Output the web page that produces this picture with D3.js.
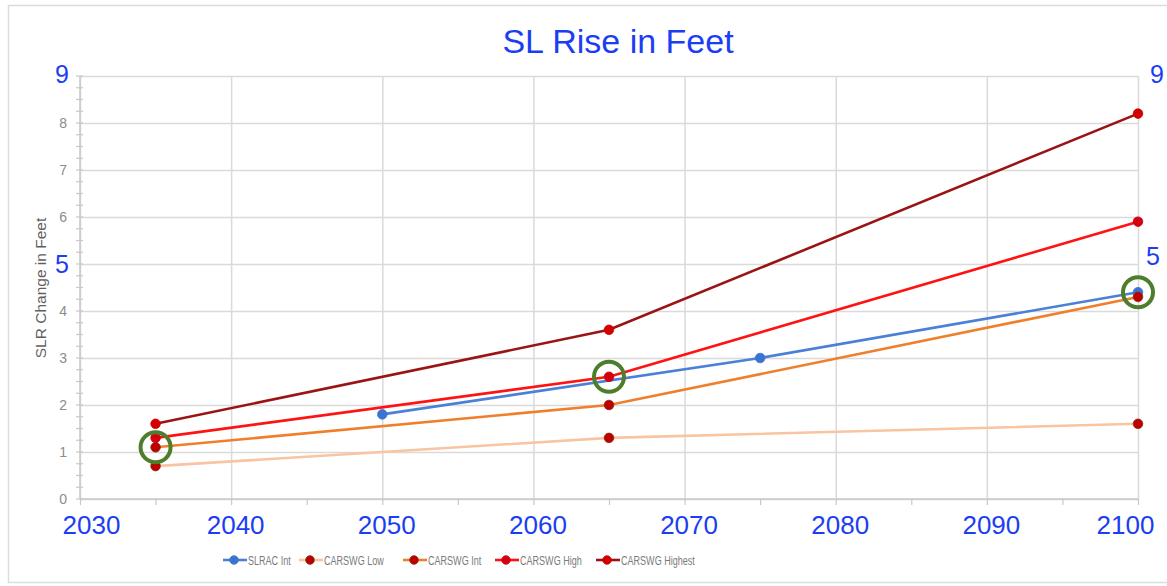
<!DOCTYPE html>
<html>
<head>
<meta charset="utf-8">
<script src="https://cdn.jsdelivr.net/npm/d3@7"></script>
<style>
  body { margin: 0; background: #fff; }
  svg { display: block; }
</style>
</head>
<body>
<script>
// data
var slracYears = [2050, 2075, 2100];
var slracInt = [1.8, 3.0, 4.4];
var carswgYears = [2035, 2065, 2100];
var carswgLow = [0.7, 1.3, 1.6];
var carswgInt = [1.1, 2.0, 4.3];
var carswgHigh = [1.3, 2.6, 5.9];
var carswgHighest = [1.6, 3.6, 8.2];
var seriesNames = ["SLRAC Int", "CARSWG Low", "CARSWG Int", "CARSWG High", "CARSWG Highest"];
var xTicks = [2030, 2040, 2050, 2060, 2070, 2080, 2090, 2100];
var yTicks = [0, 1, 2, 3, 4, 6, 7, 8];   // 5 and 9 are covered by the blue notes
var circledYears = [2035, 2065, 2100];
var circledValues = [1.1, 2.6, 4.4];
var noteLeft = [9, 5];
var noteRight = [9, 5];

var W = 1167, H = 586;
var blue = "#1c3ef2";

var svg = d3.select("body").append("svg")
  .attr("width", W)
  .attr("height", H);

// outer frame
svg.append("rect")
  .attr("x", 8.5).attr("y", 5.5)
  .attr("width", W + 20).attr("height", 577)
  .attr("fill", "none")
  .attr("stroke", "#dcdcdc")
  .attr("stroke-width", 1.5);

var x = d3.scaleLinear().domain([2030, 2100]).range([80, 1138]);
var y = d3.scaleLinear().domain([0, 9]).range([499, 76]);

// grid
var gy = svg.append("g")
  .attr("transform", "translate(80,0)")
  .call(d3.axisLeft(y).tickValues(d3.range(0, 10)).tickSize(-(1138 - 80)).tickFormat(""));
gy.select(".domain").remove();
gy.selectAll("line").attr("stroke", "#dadada").attr("stroke-width", 1.5);

var gx = svg.append("g")
  .attr("transform", "translate(0,499)")
  .call(d3.axisBottom(x).tickValues(xTicks).tickSize(-(499 - 76)).tickFormat(""));
gx.select(".domain").remove();
gx.selectAll("line").attr("stroke", "#dadada").attr("stroke-width", 1.5);

// axis lines + small ticks
svg.append("line")
  .attr("x1", 80).attr("x2", 80).attr("y1", y(9)).attr("y2", y(0))
  .attr("stroke", "#c8c8c8").attr("stroke-width", 1.5);
svg.append("line")
  .attr("x1", x(2030)).attr("x2", x(2100)).attr("y1", 499).attr("y2", 499)
  .attr("stroke", "#c8c8c8").attr("stroke-width", 1.5);

svg.append("g").selectAll("line")
  .data(d3.range(0, 9.01, 0.25))
  .enter()
  .append("line")
  .attr("x1", 76).attr("x2", 83)
  .attr("y1", function(d) { return y(d); })
  .attr("y2", function(d) { return y(d); })
  .attr("stroke", "#c8c8c8").attr("stroke-width", 1.2);

var xm = svg.append("g")
  .attr("transform", "translate(0,499)")
  .call(d3.axisBottom(x).tickValues(d3.range(2030, 2101, 5)).tickSize(6).tickFormat(""));
xm.select(".domain").remove();
xm.selectAll("line").attr("stroke", "#c8c8c8").attr("stroke-width", 1.2);

// y tick labels (gray)
var yl = svg.append("g")
  .attr("transform", "translate(80,0)")
  .call(d3.axisLeft(y).tickValues(yTicks).tickSize(0).tickPadding(13));
yl.select(".domain").remove();
yl.selectAll("text")
  .attr("font-family", "'Liberation Sans', Arial, sans-serif")
  .attr("font-size", "14px")
  .attr("fill", "#8c8c8c");

// x tick labels (big blue)
var xl = svg.append("g")
  .attr("transform", "translate(0,499)")
  .call(d3.axisBottom(x).tickValues(xTicks).tickSize(0).tickPadding(17).tickFormat(d3.format("d")));
xl.select(".domain").remove();
xl.selectAll("text")
  .attr("font-family", "'Liberation Sans', Arial, sans-serif")
  .attr("font-size", "26px")
  .attr("fill", blue)
  .attr("dx", function(d) { return d == 2030 ? 11 : (d == 2100 ? -13 : 4); });

// y axis title
svg.append("text")
  .attr("transform", "translate(46,288) rotate(-90)")
  .attr("text-anchor", "middle")
  .attr("font-family", "'Liberation Sans', Arial, sans-serif")
  .attr("font-size", "15.5px")
  .attr("fill", "#5f5f5f")
  .text("SLR Change in Feet");

// title
svg.append("text")
  .attr("x", 618).attr("y", 53)
  .attr("text-anchor", "middle")
  .attr("font-family", "'Liberation Sans', Arial, sans-serif")
  .attr("font-size", "34px")
  .attr("fill", blue)
  .text("SL Rise in Feet");

// series
var series = [
  { name: seriesNames[0], years: slracYears, vals: slracInt, line: "#4a80d6", dot: "#3a74d0", stroke: "#3a74d0" },
  { name: seriesNames[1], years: carswgYears, vals: carswgLow, line: "#f9c4a2", dot: "#bb0000", stroke: "#8a2a00" },
  { name: seriesNames[2], years: carswgYears, vals: carswgInt, line: "#f07f2c", dot: "#bb0000", stroke: "#8a2a00" },
  { name: seriesNames[3], years: carswgYears, vals: carswgHigh, line: "#ff1212", dot: "#d20010", stroke: "#d20010" },
  { name: seriesNames[4], years: carswgYears, vals: carswgHighest, line: "#9a1414", dot: "#d20000", stroke: "#d20000" }
];

var line = d3.line()
  .x(function(d) { return x(d[0]); })
  .y(function(d) { return y(d[1]); });

series.forEach(function(s) {
  var pts = s.years.map(function(yr, i) { return [yr, s.vals[i]]; });
  svg.append("path")
    .datum(pts)
    .attr("d", line)
    .attr("fill", "none")
    .attr("stroke", s.line)
    .attr("stroke-width", 2.6);
  svg.append("g").selectAll("circle")
    .data(pts)
    .enter()
    .append("circle")
    .attr("cx", function(d) { return x(d[0]); })
    .attr("cy", function(d) { return y(d[1]); })
    .attr("r", 4.8)
    .attr("fill", s.dot)
    .attr("stroke", s.stroke)
    .attr("stroke-width", 0.8);
});

// green highlight rings
svg.append("g").selectAll("circle")
  .data(circledYears)
  .enter()
  .append("circle")
  .attr("cx", function(d) { return x(d); })
  .attr("cy", function(d, i) { return y(circledValues[i]); })
  .attr("r", 15)
  .attr("fill", "none")
  .attr("stroke", "#4e7d2c")
  .attr("stroke-width", 4);

// blue side notes
svg.append("g").selectAll("text")
  .data(noteLeft)
  .enter()
  .append("text")
  .attr("x", 62)
  .attr("y", function(d) { return y(d) + (d == 9 ? 7 : 9); })
  .attr("text-anchor", "middle")
  .attr("font-family", "'Liberation Sans', Arial, sans-serif")
  .attr("font-size", "25px")
  .attr("fill", blue)
  .text(function(d) { return d; });

svg.append("g").selectAll("text")
  .data(noteRight)
  .enter()
  .append("text")
  .attr("x", function(d) { return d == 9 ? 1157 : 1153; })
  .attr("y", function(d) { return y(d) + (d == 9 ? 7 : 1); })
  .attr("text-anchor", "middle")
  .attr("font-family", "'Liberation Sans', Arial, sans-serif")
  .attr("font-size", "25px")
  .attr("fill", blue)
  .text(function(d) { return d; });

// legend
var legX = [223, 299, 403, 495, 596];
var leg = svg.append("g").selectAll("g")
  .data(series)
  .enter()
  .append("g")
  .attr("transform", function(d, i) { return "translate(" + legX[i] + ",560)"; });
leg.append("line")
  .attr("x1", 0).attr("x2", 24)
  .attr("stroke", function(d) { return d.line; })
  .attr("stroke-width", 2.6);
leg.append("circle")
  .attr("cx", 11).attr("r", 4.3)
  .attr("fill", function(d) { return d.dot; })
  .attr("stroke", function(d) { return d.stroke; })
  .attr("stroke-width", 0.8);
// condensed look: squeeze the text horizontally
leg.append("text")
  .attr("transform", "translate(25,0) scale(0.67,1)")
  .attr("dy", "0.35em")
  .attr("font-family", "'Liberation Sans', Arial, sans-serif")
  .attr("font-size", "13.5px")
  .attr("fill", "#7a7a7a")
  .text(function(d) { return d.name; });
</script>
</body>
</html>
